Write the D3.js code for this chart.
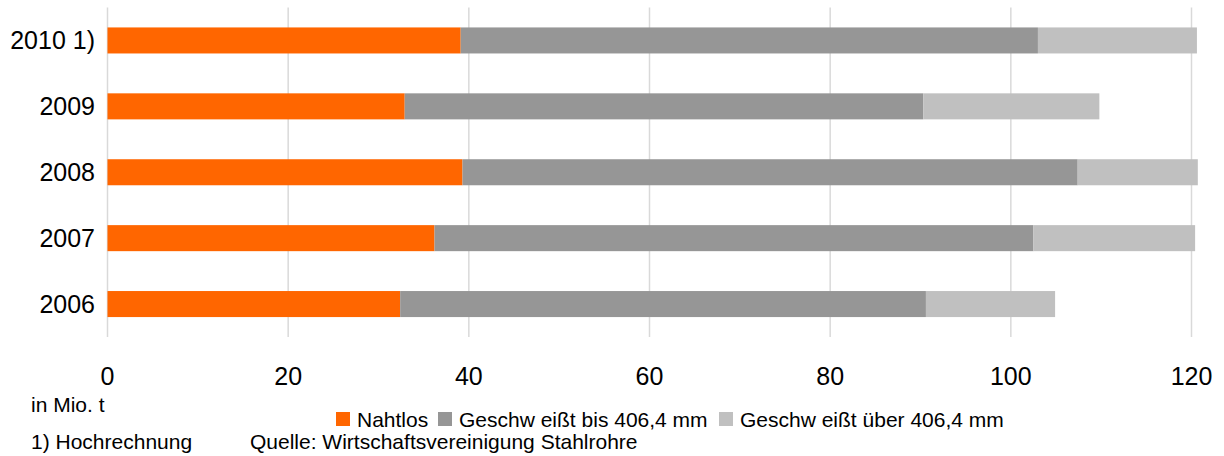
<!DOCTYPE html>
<html>
<head>
<meta charset="utf-8">
<script src="https://cdn.jsdelivr.net/npm/d3@7"></script>
<style>
  html, body { margin: 0; padding: 0; background: #ffffff; }
  svg { display: block; font-family: "Liberation Sans", Arial, sans-serif; }
</style>
</head>
<body>
<svg id="chart" width="1224" height="456"></svg>
<script>
const categories = ["2010 1)", "2009", "2008", "2007", "2006"];
const seriesNames = ["Nahtlos", "Geschw eißt bis 406,4 mm", "Geschw eißt über 406,4 mm"];
const nahtlos = [39.1, 32.9, 39.3, 36.2, 32.4];
const geschweisstBis = [63.9, 57.4, 68.1, 66.3, 58.2];
const geschweisstUeber = [17.6, 19.5, 13.3, 17.9, 14.3];
const xTicks = [0, 20, 40, 60, 80, 100, 120];
const colors = ["#ff6600", "#969696", "#c0c0c0"];

(function () {
const svg = d3.select("#chart");
const mLeft = 107.5, mRight = 1191.5, mTop = 7.5, mBottom = 337;

const x = d3.scaleLinear().domain([0, 120]).range([mLeft, mRight]);
const y = d3.scaleBand().domain(categories).range([mTop, mBottom]).paddingInner(0.605).paddingOuter(0.3025);

// gridlines
svg.append("g").selectAll("line").data(xTicks).join("line")
  .attr("x1", d => x(d)).attr("x2", d => x(d))
  .attr("y1", mTop).attr("y2", mBottom)
  .attr("stroke", "#d9d9d9").attr("stroke-width", 1.5);

// stacked data
const rows = categories.map((c, i) => ({cat: c, s0: nahtlos[i], s1: geschweisstBis[i], s2: geschweisstUeber[i]}));
const stack = d3.stack().keys(["s0", "s1", "s2"])(rows);

svg.append("g").selectAll("g").data(stack).join("g")
  .attr("fill", (d, i) => colors[i])
  .selectAll("rect").data(d => d).join("rect")
  .attr("x", d => x(d[0]))
  .attr("width", d => x(d[1]) - x(d[0]))
  .attr("y", d => y(d.data.cat))
  .attr("height", y.bandwidth());

// y labels
svg.append("g").selectAll("text").data(categories).join("text")
  .attr("x", 95).attr("y", d => y(d) + y.bandwidth() / 2)
  .attr("dy", "0.36em")
  .attr("text-anchor", "end")
  .attr("font-size", 25).attr("fill", "#000")
  .text(d => d);

// x tick labels
svg.append("g").selectAll("text").data(xTicks).join("text")
  .attr("x", d => x(d)).attr("y", 385)
  .attr("text-anchor", "middle")
  .attr("font-size", 25).attr("fill", "#000")
  .text(d => d);

// unit
svg.append("text").attr("x", 31).attr("y", 412).attr("font-size", 21).text("in Mio. t");

// legend
const legendX = [336, 438, 719];
const lg = svg.append("g").selectAll("g").data(seriesNames).join("g")
  .attr("transform", (d, i) => `translate(${legendX[i]},412)`);
lg.append("rect").attr("width", 14).attr("height", 14).attr("fill", (d, i) => colors[i]);
lg.append("text").attr("x", 21).attr("y", 14.5).attr("font-size", 21).text(d => d);

// footnotes
svg.append("text").attr("x", 31).attr("y", 449).attr("font-size", 21).text("1) Hochrechnung");
svg.append("text").attr("x", 250).attr("y", 449).attr("font-size", 21).text("Quelle: Wirtschaftsvereinigung Stahlrohre");
})();
</script>
</body>
</html>
